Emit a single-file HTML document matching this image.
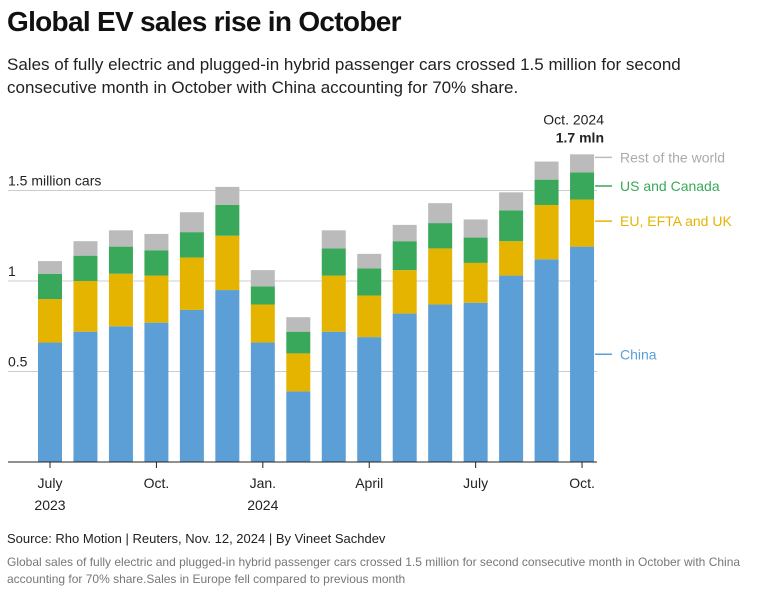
<!DOCTYPE html>
<html><head><meta charset="utf-8"><style>
body{margin:0;background:#fff;font-family:"Liberation Sans",sans-serif;}
#wrap{position:relative;width:766px;height:595px;overflow:hidden}
.t{position:absolute;white-space:nowrap}
</style></head><body>
<div id="wrap">
<div class="t" style="left:7px;top:6px;font-size:28px;font-weight:bold;letter-spacing:-0.7px;color:#111">Global EV sales rise in October</div>
<div class="t" style="left:7px;top:53px;font-size:17px;line-height:23px;color:#222">Sales of fully electric and plugged-in hybrid passenger cars crossed 1.5 million for second<br>consecutive month in October with China accounting for 70% share.</div>
<svg id="chart" width="766" height="595" style="position:absolute;left:0;top:0" font-family="Liberation Sans, sans-serif"></svg>
<div class="t" style="left:7px;top:531px;font-size:13px;color:#222">Source: Rho Motion | Reuters, Nov. 12, 2024 | By Vineet Sachdev</div>
<div class="t" style="left:7px;top:554px;font-size:12px;line-height:17px;color:#777">Global sales of fully electric and plugged-in hybrid passenger cars crossed 1.5 million for second consecutive month in October with China<br>accounting for 70% share.Sales in Europe fell compared to previous month</div>
</div>
<script>
const months=["Jul23","Aug23","Sep23","Oct23","Nov23","Dec23","Jan24","Feb24","Mar24","Apr24","May24","Jun24","Jul24","Aug24","Sep24","Oct24"];
const china=[0.66,0.72,0.75,0.77,0.84,0.95,0.66,0.39,0.72,0.69,0.82,0.87,0.88,1.03,1.12,1.19];
const euUk=[0.24,0.28,0.29,0.26,0.29,0.30,0.21,0.21,0.31,0.23,0.24,0.31,0.22,0.19,0.30,0.26];
const usCanada=[0.14,0.14,0.15,0.14,0.14,0.17,0.10,0.12,0.15,0.15,0.16,0.14,0.14,0.17,0.14,0.15];
const restWorld=[0.07,0.08,0.09,0.09,0.11,0.10,0.09,0.08,0.10,0.08,0.09,0.11,0.10,0.10,0.10,0.10];
const yTicks=[0.5,1,1.5];
const yTickLabels=["0.5","1","1.5 million cars"];
const xTickIdx=[0,3,6,9,12,15];
const xTickLabels=[["July","2023"],["Oct.",""],["Jan.","2024"],["April",""],["July",""],["Oct.",""]];
const seriesNames=["China","EU, EFTA and UK","US and Canada","Rest of the world"];
const colors=["#5b9fd6","#e5b400","#3aa85a","#bbbbbb"];

const svg=document.getElementById('chart');
const NS="http://www.w3.org/2000/svg";
const y0=462,pxPer=181,x0=50,step=35.47,bw=24;
const Y=v=>y0-v*pxPer, X=i=>x0+i*step;
function mk(tag,a,parent){const e=document.createElementNS(NS,tag);for(const k in a)e.setAttribute(k,a[k]);(parent||svg).appendChild(e);return e;}
yTicks.forEach((v,i)=>{
  const l=mk('line',{x1:8,x2:597,y1:Y(v),y2:Y(v),stroke:'#ccc','stroke-width':1});
  
  
  const t=mk('text',{x:8,y:Y(v)-5,'font-size':14,fill:'#222'});t.textContent=yTickLabels[i];
  
  
});
const series=[china,euUk,usCanada,restWorld];
months.forEach((m,i)=>{
  let cum=0;
  series.forEach((s,k)=>{
    const r=mk('rect',{x:X(i)-bw/2,y:Y(cum+s[i]),width:bw,height:s[i]*pxPer,fill:colors[k]});
    
    
    cum+=s[i];
  });
});
const ax=mk('line',{x1:8,x2:597,y1:y0,y2:y0,stroke:'#222','stroke-width':1});


xTickIdx.forEach((idx,j)=>{
  mk('line',{x1:X(idx),x2:X(idx),y1:y0,y2:y0+6,stroke:'#222'});
  xTickLabels[j].forEach((s,r)=>{if(!s)return;
    const t=mk('text',{x:X(idx),y:y0+26+r*22,'font-size':14,fill:'#222','text-anchor':'middle'});t.textContent=s;
    
    
  });
});
const last=months.length-1;let c=0;
const legendShift=[0,-2,0,-6];
series.forEach((s,k)=>{
  const mid=Y(c+s[last]/2);c+=s[last];
  const ly=mid+legendShift[k];
  mk('line',{x1:X(last)+bw/2+1,x2:X(last)+bw/2+18,y1:ly,y2:ly,stroke:colors[k],'stroke-width':1.5});
  const t=mk('text',{x:620,y:ly+5,'font-size':14,fill:k===3?'#aaa':colors[k]});t.textContent=seriesNames[k];
  
  
});
const tot=china[last]+euUk[last]+usCanada[last]+restWorld[last];
const a1=mk('text',{x:604,y:Y(tot)-30,'font-size':14,fill:'#222','text-anchor':'end'});a1.textContent="Oct. 2024";


const a2=mk('text',{x:604,y:Y(tot)-12,'font-size':14,'font-weight':'bold',fill:'#222','text-anchor':'end'});a2.textContent=tot.toFixed(1)+" mln";


</script>
</body></html>
